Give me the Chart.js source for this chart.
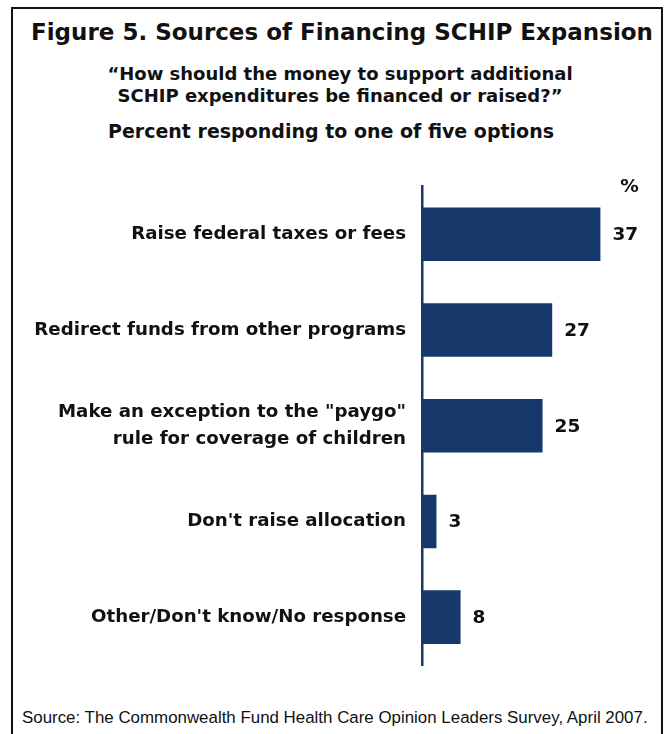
<!DOCTYPE html>
<html>
<head>
<meta charset="utf-8">
<script src="https://cdn.jsdelivr.net/npm/chart.js@4"></script>
<style>
  body { margin: 0; background: #fff; font-family: "DejaVu Sans", sans-serif; }
  #page { position: relative; width: 670px; height: 734px; overflow: hidden; }
  #frame { position: absolute; left: 11px; top: 7px; width: 648px; height: 760px; border: 2px solid #111; }
  .txt { position: absolute; width: 650px; text-align: center; font-weight: bold; color: #111; white-space: nowrap; }
  #title { left: 17px; top: 19px; font-size: 23px; }
  #sub { left: 15px; top: 63px; font-size: 18px; line-height: 22px; }
  #sub2 { left: 6px; top: 120px; font-size: 19px; }
  #source { position: absolute; left: 22px; top: 708px; font-family: "Liberation Sans", Arial, sans-serif; font-size: 16.9px; color: #111; white-space: nowrap; }
  #wrap { position: absolute; left: 0; top: 157px; width: 670px; height: 540px; }
</style>
</head>
<body>
<div id="page">
  <div id="frame"></div>
  <div class="txt" id="title">Figure 5. Sources of Financing SCHIP Expansion</div>
  <div class="txt" id="sub">“How should the money to support additional<br>SCHIP expenditures be financed or raised?”</div>
  <div class="txt" id="sub2">Percent responding to one of five options</div>
  <div id="wrap"><canvas id="myChart"></canvas></div>
  <div id="source">Source: The Commonwealth Fund Health Care Opinion Leaders Survey, April 2007.</div>
</div>
<script>
let options = [
  'Raise federal taxes or fees',
  'Redirect funds from other programs',
  ['Make an exception to the "paygo"', 'rule for coverage of children'],
  "Don't raise allocation",
  "Other/Don't know/No response"
];
let percents = [37, 27, 25, 3, 8];

let navy = '#17386a';
let labelFont = 'bold 18.5px "DejaVu Sans", sans-serif';

// numbers at the end of each bar, plus the "%" header
let valueLabels = {
  id: 'valueLabels',
  afterDatasetsDraw(chart) {
    let ctx = chart.ctx;
    let meta = chart.getDatasetMeta(0);
    ctx.save();
    ctx.font = labelFont;
    ctx.fillStyle = '#111';
    ctx.textBaseline = 'middle';
    ctx.textAlign = 'left';
    meta.data.forEach((bar, i) => {
      ctx.fillText(percents[i], bar.x + 12, bar.y + 1);
    });
    let first = meta.data[0];
    ctx.textAlign = 'center';
    ctx.fillText('%', first.x + 29, chart.chartArea.top + 1);
    ctx.restore();
  }
};

let ctx = document.getElementById('myChart');
let myChart = new Chart(ctx, {
  type: 'bar',
  data: {
    labels: options,
    datasets: [{
      data: percents,
      backgroundColor: navy,
      borderWidth: 0,
      barPercentage: 0.56,
      categoryPercentage: 1
    }]
  },
  options: {
    indexAxis: 'y',
    responsive: true,
    maintainAspectRatio: false,
    animation: false,
    layout: { padding: { top: 25, bottom: 32, left: 0, right: 31 } },
    plugins: {
      legend: { display: false },
      tooltip: { enabled: false }
    },
    scales: {
      x: {
        display: false,
        min: 0,
        max: 45
      },
      y: {
        afterFit(scale) { scale.width = 422; },
        grid: { display: true, drawOnChartArea: false, drawTicks: false, color: 'rgba(0,0,0,0)' },
        border: { display: true, color: navy, width: 2.5 },
        ticks: {
          padding: 16,
          color: '#111',
          font: { family: '"DejaVu Sans", sans-serif', size: 18.2, weight: 'bold', lineHeight: 1.48 }
        }
      }
    }
  },
  plugins: [valueLabels]
});
</script>
</body>
</html>
